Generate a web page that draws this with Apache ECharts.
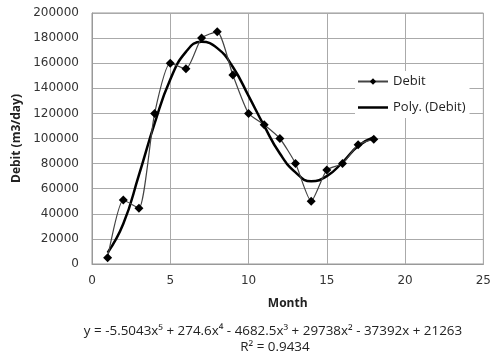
<!DOCTYPE html>
<html>
<head>
<meta charset="utf-8">
<script src="https://cdn.jsdelivr.net/npm/echarts@6/dist/echarts.min.js"></script>
<style>
  html, body { margin: 0; padding: 0; background: #fff; }
  #main { width: 494px; height: 356px; }
</style>
</head>
<body>
<div id="main"></div>
<script>
// monthly debit
var months = [1, 2, 3, 4, 5, 6, 7, 8, 9, 10, 11, 12, 13, 14, 15, 16, 17, 18];
var debit = [5000, 51000, 44500, 120000, 160000, 155500, 180000, 185000, 150500, 120000, 111000, 100000, 80000, 50000, 75000, 80000, 95000, 99500];
// poly trendline as drawn
var trend = [9000, 32000, 71000, 112000, 147000, 169000, 177000, 172000, 157000, 134000, 110000, 88000, 73000, 66000, 70000, 81000, 94000, 101000];
var xTicks = [0, 5, 10, 15, 20, 25];
var yTicks = [0, 20000, 40000, 60000, 80000, 100000, 120000, 140000, 160000, 180000, 200000];
var equation = 'y = -5.5043x⁵ + 274.6x⁴ - 4682.5x³ + 29738x² - 37392x + 21263';
var rSquared = 'R² = 0.9434';

var font = 'Open Sans';
var tickFont = 'DejaVu Sans';

var myChart = echarts.init(document.getElementById('main'));

var option = {
  animation: false,
  textStyle: { fontFamily: font },
  grid: {
    left: 92,
    right: 7,
    top: 13,
    bottom: 92,
    show: true,
    borderColor: '#999',
    borderWidth: 1
  },
  legend: {
    orient: 'vertical',
    left: 355,
    top: 71,
    itemWidth: 30,
    itemHeight: 8,
    itemGap: 13,
    padding: [4, 4, 4, 2],
    backgroundColor: '#fff',
    textStyle: { fontSize: 13, color: '#222', fontFamily: font },
    data: [
      { name: 'Debit' },
      { name: 'Poly. (Debit)', icon: 'path://M0 0H30V2.5H0Z' }
    ]
  },
  xAxis: {
    type: 'value',
    min: xTicks[0],
    max: xTicks[xTicks.length - 1],
    interval: 5,
    name: 'Month',
    nameLocation: 'middle',
    nameGap: 34,
    nameTextStyle: { fontWeight: 'bold', fontSize: 12, color: '#222', fontFamily: font },
    axisLine: { show: true, lineStyle: { color: '#999' } },
    axisTick: { show: false },
    axisLabel: { fontSize: 12, color: '#333', margin: 11, fontFamily: tickFont },
    splitLine: { show: true, lineStyle: { color: '#aaa', width: 1 } }
  },
  yAxis: {
    type: 'value',
    min: yTicks[0],
    max: yTicks[yTicks.length - 1],
    interval: 20000,
    name: 'Debit (m3/day)',
    nameLocation: 'middle',
    nameGap: 66,
    nameTextStyle: { fontWeight: 'bold', fontSize: 12, color: '#222', fontFamily: font },
    axisLine: { show: true, lineStyle: { color: '#999' } },
    axisTick: { show: false },
    axisLabel: {
      fontSize: 12,
      color: '#333',
      margin: 13,
      fontFamily: tickFont,
      formatter: function (v) { return String(v); }
    },
    splitLine: { show: true, lineStyle: { color: '#aaa', width: 1 } }
  },
  series: [
    {
      name: 'Debit',
      type: 'line',
      data: months.map(function (m, i) { return [m, debit[i]]; }),
      smooth: 0.2,
      symbol: 'diamond',
      symbolSize: 9,
      itemStyle: { color: '#000' },
      lineStyle: { color: '#444', width: 1.2 },
      z: 3
    },
    {
      name: 'Poly. (Debit)',
      type: 'line',
      data: months.map(function (m, i) { return [m, trend[i]]; }),
      smooth: 0.5,
      showSymbol: false,
      symbol: 'none',
      itemStyle: { color: '#000' },
      lineStyle: { color: '#000', width: 2.5 },
      z: 2
    }
  ],
  graphic: [
    {
      type: 'text',
      x: 273,
      y: 331,
      style: { text: equation, fontSize: 13.4, fill: '#222', fontFamily: font, align: 'center', verticalAlign: 'middle' }
    },
    {
      type: 'text',
      x: 275,
      y: 347,
      style: { text: rSquared, fontSize: 13.4, fill: '#222', fontFamily: font, align: 'center', verticalAlign: 'middle' }
    }
  ]
};

myChart.setOption(option);
</script>
</body>
</html>
